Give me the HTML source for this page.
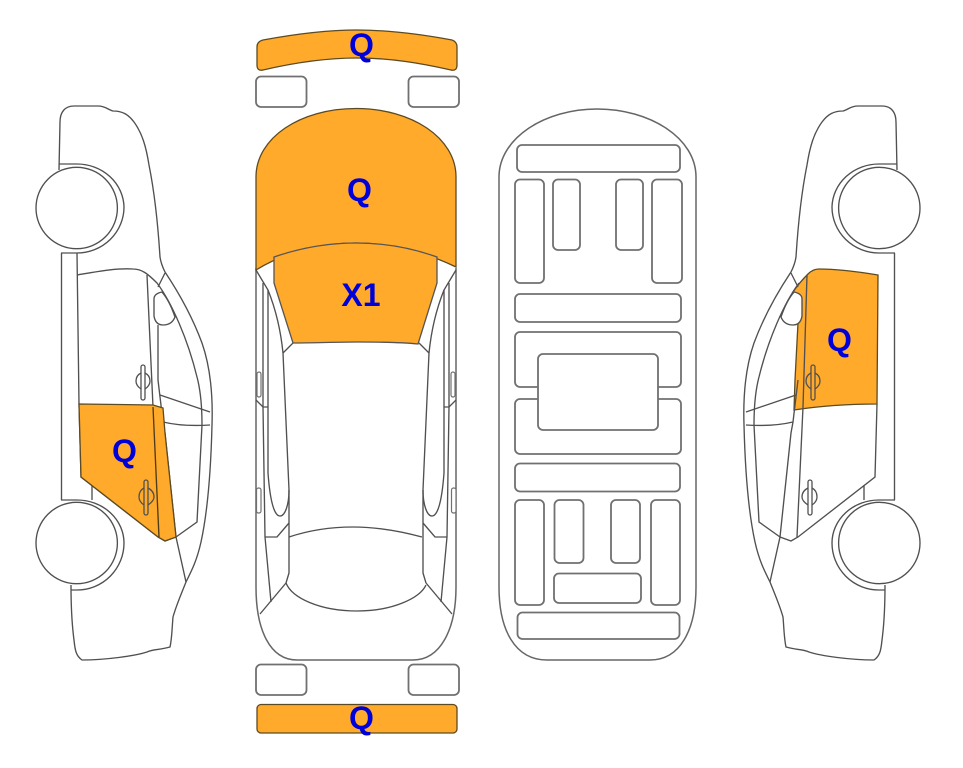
<!DOCTYPE html>
<html>
<head>
<meta charset="utf-8">
<style>
html,body{margin:0;padding:0;background:#fff;width:963px;height:768px;overflow:hidden}
svg{display:block}
.l{fill:none;stroke:#505050;stroke-width:1.35}
.g{fill:#fff;stroke:#707070;stroke-width:1.8}
.o{fill:#ffaa2b;stroke:#5c4a22;stroke-width:1.3}
text{font-family:"Liberation Sans",sans-serif;font-weight:bold;font-size:32px;fill:#0000d8;text-anchor:middle}
</style>
</head>
<body>
<svg width="963" height="768" viewBox="0 0 963 768" xmlns="http://www.w3.org/2000/svg">
<defs>
<g id="side">
  <path class="l" d="M59 170L60 122C60 112 65 106 74 106L98 106C106 106 108 110 113 111C122 111 128 114 134 122C142 133 146 146 149 165C155 195 158 225 160 257C161 264 163 268 165 272C177 290 192 316 202 343C210 366 213 395 212 425C211 465 208 510 201 542C197 560 192 570 186 582C180 597 176 606 173 617C172 628 172 638 170 647C160 650 153 649 147 652C135 656 105 660 82 660C76 656 75 650 74 640C72 625 71 605 71 585"/>
  <path class="l" d="M59 164L77 164A47 44 0 0 1 124 207A47 46 0 0 1 77 253L61 253"/>
  <path class="l" d="M61 500L77 500A47 43 0 0 1 124 543A47 47 0 0 1 77 590L71 590"/>
  <circle cx="76.7" cy="208" r="40.7" fill="#fff" stroke="#505050" stroke-width="1.35"/>
  <circle cx="76.7" cy="543" r="40.7" fill="#fff" stroke="#505050" stroke-width="1.35"/>
  <path class="l" d="M61.5 253L61.5 500"/>
  <path class="l" d="M77 253L79 404L81 477L158 537L165 541L176 537"/>
  <path class="l" d="M77 275C95 272 115 268 133 269C142 269 148 274 157 283C172 303 188 340 197 377C201 392 202 410 202 425L197 522L176 537L186 582"/>
  <path class="l" d="M165 273L158 287M147 275L153 407L159 537M158 325L158 380L163 422L165 433L176 537"/>
  <path class="l" d="M160 395L210 412M163 422C180 426 195 426 210 425"/>
  <path class="l" d="M92 485L92 500"/>
  <path d="M162 292C157 293 154 295 154 299L154 316C155 322 158 325 163 325C169 325 173 322 175 317C172 308 168 299 162 292Z" fill="#fff" stroke="#505050" stroke-width="1.35"/>
</g>
<g id="handleU" fill="none" stroke="#505050" stroke-width="1.3">
  <rect x="141" y="365" width="4" height="35" rx="2"/>
  <path d="M141 373C137 375 136 378 136 381C136 384 138 387 141 389M145 373C149 375 150 378 150 381C150 384 148 387 145 389"/>
</g>
<g id="handleL" fill="none" stroke="#505050" stroke-width="1.3">
  <rect x="144" y="480" width="4" height="35" rx="2"/>
  <path d="M144 488C140 490 139 493 139 497C139 500 141 503 144 505M148 488C152 490 154 493 154 497C154 500 151 503 148 505"/>
</g>
<g id="topSide">
  <path class="l" d="M256 270L268 290C276 310 281 333 283 353L289 490L289 573L286 583"/>
  <path class="l" d="M283 353L293 343"/>
  <path class="l" d="M263 283L263 407L265 537L271 602"/>
  <path class="l" d="M268 290L268 473C270 500 274 516 280 516C285 516 289 505 289 490"/>
  <path class="l" d="M265 537L277 537L289 523"/>
  <path class="l" d="M260 614L286 583"/>
  <path class="l" d="M256 400L263 407L268 407"/>
</g>
</defs>

<!-- Left side view -->
<use href="#side"/>
<path class="o" d="M79 404L153 405L163 408L165 433L176 537L165 541L158 537L81 477Z"/>
<path class="l" d="M153 407L159 537" style="stroke:#4d3d1c"/>
<use href="#handleU"/>
<use href="#handleL"/>

<!-- Right side view -->
<path class="o" d="M808 274C811 271 814 269 819 269C840 269 860 272 878 275L877 404C850 404 820 406 794 410L795 380L798 323L793 292C797 286 802 280 808 274Z"/>
<g transform="translate(956 0) scale(-1 1)">
  <path class="l" d="M59 170L60 122C60 112 65 106 74 106L98 106C106 106 108 110 113 111C122 111 128 114 134 122C142 133 146 146 149 165C155 195 158 225 160 257C161 264 163 268 165 272C177 290 192 316 202 343C210 366 213 395 212 425C211 465 208 510 201 542C197 560 192 570 186 582C180 597 176 606 173 617C172 628 172 638 170 647C160 650 153 649 147 652C135 656 105 660 82 660C76 656 75 650 74 640C72 625 71 605 71 585"/>
  <path class="l" d="M59 164L77 164A47 44 0 0 1 124 207A47 46 0 0 1 77 253L61 253"/>
  <path class="l" d="M61 500L77 500A47 43 0 0 1 124 543A47 47 0 0 1 77 590L71 590"/>
  <circle cx="76.7" cy="208" r="40.7" fill="#fff" stroke="#505050" stroke-width="1.35"/>
  <circle cx="76.7" cy="543" r="40.7" fill="#fff" stroke="#505050" stroke-width="1.35"/>
  <path class="l" d="M61.5 253L61.5 500"/>
  <path class="l" d="M79 404L81 477L158 537L165 541L176 537"/>
  <path class="l" d="M197 377C201 392 202 410 202 425L197 522L176 537L186 582"/>
  <path class="l" d="M157 283C172 303 188 340 197 377"/>
  <path class="l" d="M165 273L158 287M149 275L153 407L159 537M158 380L163 422L165 433L176 537"/>
  <path class="l" d="M160 395L210 412M163 422C180 426 195 426 210 425"/>
  <path class="l" d="M92 485L92 500"/>
  <path d="M162 292C157 293 154 295 154 299L154 316C155 322 158 325 163 325C169 325 173 322 175 317C172 308 168 299 162 292Z" fill="#fff" stroke="#505050" stroke-width="1.35"/>
  <use href="#handleU"/>
  <use href="#handleL"/>
</g>

<!-- Top view -->
<path class="o" d="M257 47C257 43 259 41 263 40C290 35 325 30 357 30C390 30 425 35 452 40C455 41 457 43 457 47L457 65C457 69 455 71 451 70C420 63 390 58 357 58C325 58 293 63 263 70C259 71 257 69 257 65Z"/>
<rect class="g" x="256" y="76.5" width="50.5" height="30.5" rx="5"/>
<rect class="g" x="408.500" y="76.5" width="50.5" height="30.5" rx="5"/>
<path class="l" style="stroke:#666;stroke-width:1.5" d="M256 268L256 587C256 630 270 660 297 660L413 660C440 660 456 630 456 587L456 268"/>
<use href="#topSide"/>
<use href="#topSide" transform="translate(712 0) scale(-1 1)"/>
<path class="o" d="M256 270L256 177C256 138 300 108.500 356 108.500C412 108.500 456 138 456 177L456 267C425 252 390 243 356 243C322 243 285 252 256 270Z"/>
<path class="o" style="stroke:#555" d="M274 257C300 248 328 243 356 243C385 243 412 248 437 257L437 283L418 344C398 342 375 342 357 342C335 342 315 343 293 343L274 283Z"/>
<path class="l" d="M289 537C310 530 330 527 353 527C378 527 400 531 422 537"/>
<path class="l" d="M286 583C292 598 320 611 357 611C393 611 420 598 426 585"/>
<rect class="g" style="stroke-width:1.2" x="257" y="372" width="4" height="25" rx="2"/>
<rect class="g" style="stroke-width:1.2" x="256.500" y="488" width="4.500" height="25" rx="2"/>
<rect class="g" style="stroke-width:1.2" x="451" y="372" width="4" height="25" rx="2"/>
<rect class="g" style="stroke-width:1.2" x="451.500" y="488" width="4.500" height="25" rx="2"/>
<rect class="g" x="256" y="664.500" width="50.5" height="30.5" rx="5"/>
<rect class="g" x="408.500" y="664.500" width="50.5" height="30.5" rx="5"/>
<rect class="o" x="257" y="704.500" width="200" height="28.5" rx="4"/>

<!-- Underside view -->
<path class="l" style="stroke:#666;stroke-width:1.5" d="M499 177C499 138 545 109 597 109C650 109 696 138 696 177L696 587C696 630 680 660 650 660L547 660C515 660 499 630 499 587Z"/>
<rect class="g" x="517" y="145" width="163" height="27" rx="5"/>
<rect class="g" x="515" y="179.500" width="29" height="103.500" rx="5"/>
<rect class="g" x="553" y="179.500" width="27" height="70.500" rx="5"/>
<rect class="g" x="616" y="179.500" width="27" height="70.500" rx="5"/>
<rect class="g" x="652" y="179.500" width="30" height="103.500" rx="5"/>
<rect class="g" x="515" y="294" width="166" height="28" rx="5"/>
<rect class="g" x="515" y="332" width="166" height="55" rx="5"/>
<rect class="g" x="515" y="399" width="166" height="55" rx="5"/>
<rect class="g" x="538" y="354" width="120" height="76" rx="5"/>
<rect class="g" x="515" y="463.500" width="165" height="28" rx="5"/>
<rect class="g" x="515" y="500" width="29" height="105" rx="5"/>
<rect class="g" x="554.500" y="500" width="29" height="63" rx="5"/>
<rect class="g" x="611" y="500" width="29" height="63" rx="5"/>
<rect class="g" x="651" y="500" width="29" height="105" rx="5"/>
<rect class="g" x="554" y="573.500" width="87" height="29.500" rx="5"/>
<rect class="g" x="517.500" y="612.500" width="162" height="26.500" rx="5"/>

<!-- Labels -->
<text x="361.500" y="56">Q</text>
<text x="359.500" y="201">Q</text>
<text x="361" y="306">X1</text>
<text x="124.500" y="462">Q</text>
<text x="839.500" y="351">Q</text>
<text x="361.500" y="729">Q</text>
</svg>
</body>
</html>
